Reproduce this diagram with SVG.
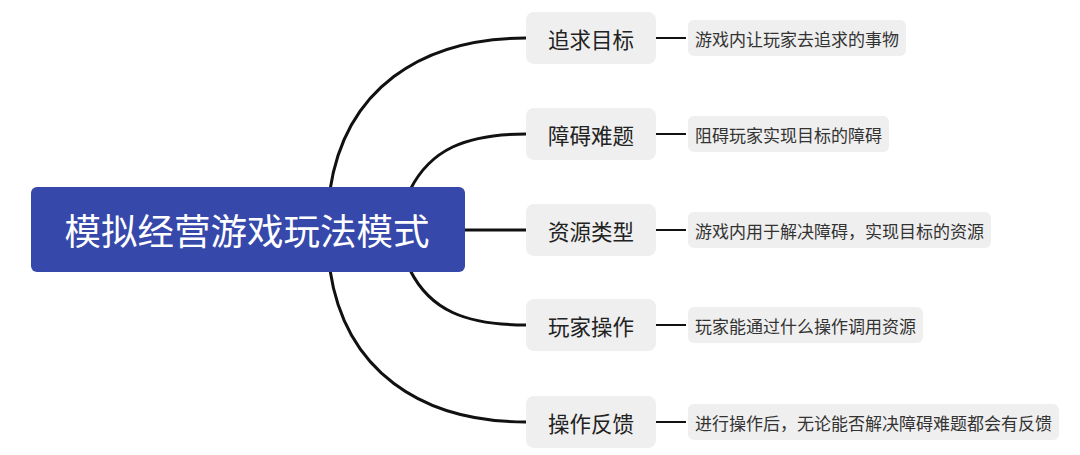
<svg xmlns="http://www.w3.org/2000/svg" width="1080" height="455" viewBox="0 0 1080 455">
<style>
.conn{fill:none;stroke:#111;stroke-width:3;stroke-linecap:round}
.leafconn{fill:none;stroke:#111;stroke-width:2}
.branch{fill:#efefef}
.leaf{fill:#efefef}
.bt{font-family:"Noto Sans CJK SC","Noto Sans",sans-serif;font-size:21.5px;fill:#222;text-anchor:middle;dominant-baseline:central}
.lt{font-family:"Noto Sans CJK SC","Noto Sans",sans-serif;font-size:17px;fill:#333;dominant-baseline:central}
.ct{font-family:"Noto Sans CJK SC","Noto Sans",sans-serif;font-size:36.5px;fill:#fff;text-anchor:middle;dominant-baseline:central}
</style>
<rect width="1080" height="455" fill="#fff"/>
<g id="connectors">
<path class="conn" d="M330,190 C345,90 420,38 526,38"/>
<path class="conn" d="M410,190 C430,150 465,134 526,134"/>
<path class="conn" d="M464,230 L526,230"/>
<path class="conn" d="M410,270 C430,310 465,325 526,325"/>
<path class="conn" d="M330,270 C345,370 420,422 526,422"/>
<path class="leafconn" d="M656,38 L686,38"/>
<path class="leafconn" d="M656,134 L686,134"/>
<path class="leafconn" d="M656,230 L686,230"/>
<path class="leafconn" d="M656,325 L686,325"/>
<path class="leafconn" d="M656,422 L686,422"/>
</g>
<g id="central">
<rect x="31" y="187" width="434" height="85" rx="6" fill="#3748ab"/>
<text class="ct" x="247" y="229.5">模拟经营游戏玩法模式</text>
</g>
<g id="b1"><rect class="branch" x="526" y="12" width="130" height="52" rx="8"/><text class="bt" x="591" y="38">追求目标</text></g>
<g id="b2"><rect class="branch" x="526" y="108" width="130" height="52" rx="8"/><text class="bt" x="591" y="134">障碍难题</text></g>
<g id="b3"><rect class="branch" x="526" y="204" width="130" height="52" rx="8"/><text class="bt" x="591" y="230">资源类型</text></g>
<g id="b4"><rect class="branch" x="526" y="299" width="130" height="52" rx="8"/><text class="bt" x="591" y="325">玩家操作</text></g>
<g id="b5"><rect class="branch" x="526" y="396" width="130" height="52" rx="8"/><text class="bt" x="591" y="422">操作反馈</text></g>
<g id="l1"><rect class="leaf" x="688" y="20" width="218" height="36" rx="6"/><text class="lt" x="695" y="38">游戏内让玩家去追求的事物</text></g>
<g id="l2"><rect class="leaf" x="688" y="116" width="201" height="36" rx="6"/><text class="lt" x="695" y="134">阻碍玩家实现目标的障碍</text></g>
<g id="l3"><rect class="leaf" x="688" y="212" width="303" height="36" rx="6"/><text class="lt" x="695" y="230">游戏内用于解决障碍，实现目标的资源</text></g>
<g id="l4"><rect class="leaf" x="688" y="307" width="235" height="36" rx="6"/><text class="lt" x="695" y="325">玩家能通过什么操作调用资源</text></g>
<g id="l5"><rect class="leaf" x="688" y="404" width="371" height="36" rx="6"/><text class="lt" x="695" y="422">进行操作后，无论能否解决障碍难题都会有反馈</text></g>
</svg>
